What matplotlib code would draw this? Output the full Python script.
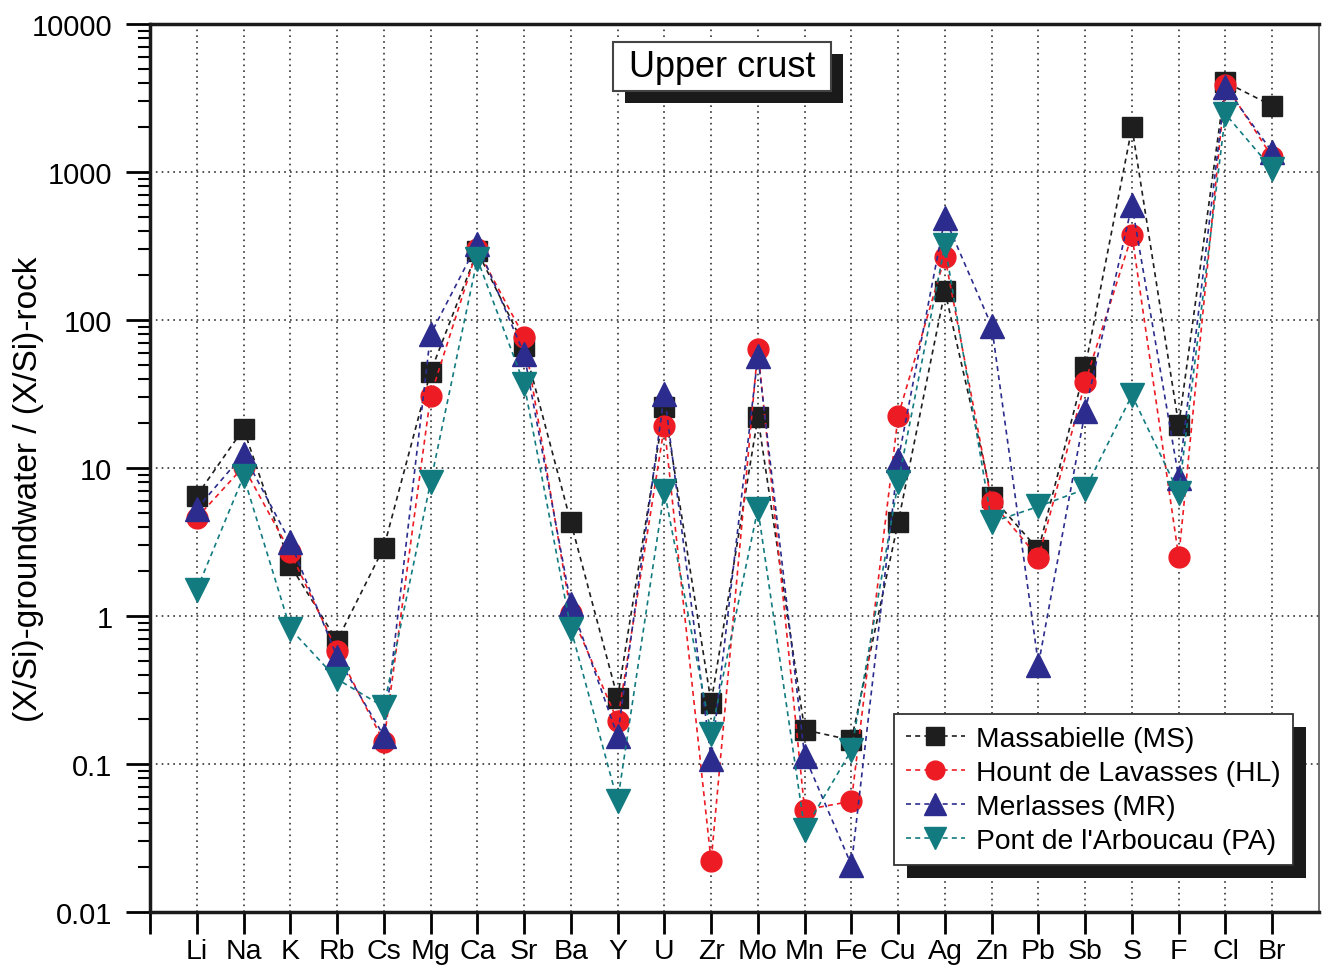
import matplotlib
matplotlib.use('Agg')
import matplotlib.pyplot as plt
import matplotlib.ticker as ticker
from matplotlib.patches import Rectangle
from matplotlib.transforms import IdentityTransform

plt.rcParams['font.family'] = ['Liberation Sans', 'DejaVu Sans']

elements = ['Li', 'Na', 'K', 'Rb', 'Cs', 'Mg', 'Ca', 'Sr', 'Ba', 'Y', 'U', 'Zr',
            'Mo', 'Mn', 'Fe', 'Cu', 'Ag', 'Zn', 'Pb', 'Sb', 'S', 'F', 'Cl', 'Br']

# (X/Si)-groundwater / (X/Si)-rock
ms = [6.5, 18.4, 2.2, 0.68, 2.9, 44.5, 292, 67, 4.3, 0.28, 26, 0.26,
      22, 0.17, 0.145, 4.3, 157, 6.4, 2.8, 48, 2000, 19.5, 4050, 2800]
hl = [4.6, 10.2, 2.7, 0.58, 0.141, 30.6, 300, 77, 1.05, 0.195, 19.2, 0.022,
      64, 0.049, 0.056, 22.5, 267, 5.9, 2.47, 38, 375, 2.5, 3900, 1260]
mr = [5.3, 12.4, 3.16, 0.53, 0.155, 80, 327, 59, 1.2, 0.155, 31.6, 0.108,
      57, 0.113, 0.0208, 11.3, 489, 91, 0.47, 24.3, 598, 8.6, 3750, 1365]
pa = [1.5, 8.8, 0.82, 0.375, 0.243, 8.0, 258, 37, 0.82, 0.056, 7.0, 0.16,
      5.3, 0.036, 0.124, 8.0, 321, 4.3, 5.5, 7.2, 31, 6.8, 2465, 1047]

labels = ['Massabielle (MS)', 'Hount de Lavasses (HL)', 'Merlasses (MR)', "Pont de l'Arboucau (PA)"]

fig = plt.figure(figsize=(13.23, 9.70), dpi=100)
ax = fig.add_axes([150/1323, 57/970, 1169/1323, 888/970])

xpos = list(range(1, len(elements) + 1))
styles = [('s', '#1e1e1e', 14), ('o', '#ed1c24', 15), ('^', '#2c2c8e', 17), ('v', '#127b80', 17)]
for vals, lab, (mk, col, sz) in zip([ms, hl, mr, pa], labels, styles):
    ax.plot(xpos, vals, linestyle=(0, (3, 2.5)), lw=1.2, color=col,
            marker=mk, ms=sz, mfc=col, mec=col, mew=1, label=lab)

ax.set_yscale('log')
ax.set_ylim(0.01, 10000)
ax.set_xlim(0, 25)
ax.set_xticks(xpos)
ax.set_xticklabels(elements)
ax.set_xticks([0], minor=True)
ax.yaxis.set_major_locator(ticker.LogLocator(base=10, numticks=10))
ax.yaxis.set_minor_locator(ticker.LogLocator(base=10, subs=range(2, 10), numticks=20))
ax.yaxis.set_major_formatter(ticker.FuncFormatter(lambda v, p: '%g' % v))
ax.yaxis.set_minor_formatter(ticker.NullFormatter())

ax.grid(True, which='major', linestyle=(0, (1, 2.5)), color='#333333', lw=1.2)
ax.tick_params(axis='y', which='major', direction='out', length=17, width=2, labelsize=21, pad=10)
ax.tick_params(axis='y', which='minor', direction='out', length=9, width=1.5)
ax.tick_params(axis='x', which='both', direction='out', length=16, width=2, labelsize=20.5, pad=3)

for s in ['left', 'bottom', 'top']:
    ax.spines[s].set_linewidth(2.5)
    ax.spines[s].set_color('#1a1a1a')
ax.spines['right'].set_linewidth(1.2)
ax.spines['right'].set_color('#555555')

ax.set_ylabel('(X/Si)-groundwater / (X/Si)-rock', fontsize=24)
ax.yaxis.label.set_va('center')
ax.yaxis.set_label_coords(-0.104, 0.4775)

# title box with drop shadow
bx, by, bw, bh = (613 - 150) / 1169, (913 - 92) / 888, 218 / 1169, 49 / 888
ax.add_patch(Rectangle((bx + 12 / 1169, by - 12 / 888), bw, bh, transform=ax.transAxes,
                       fc='#1a1a1a', ec='none', zorder=5.9, clip_on=False))
ax.add_patch(Rectangle((bx, by), bw, bh, transform=ax.transAxes,
                       fc='white', ec='#444444', lw=1.5, zorder=6, clip_on=False))
ax.text(bx + bw / 2, by + bh / 2, 'Upper crust', transform=ax.transAxes,
        ha='center', va='center', fontsize=26, zorder=7)

leg = ax.legend(loc='upper left', bbox_to_anchor=((894 - 150) / 1169, (913 - 715) / 888),
                borderaxespad=0, fontsize=20.3, fancybox=False, framealpha=1,
                edgecolor='#333333', handlelength=2.1, handletextpad=0.4,
                labelspacing=0.28, borderpad=0.42, markerscale=0.9)
leg.get_frame().set_linewidth(1.3)
leg.set_zorder(6)

fig.canvas.draw()
bb = leg.get_window_extent(fig.canvas.get_renderer())
ax.add_artist(Rectangle((bb.x0 + 13, bb.y0 - 13), bb.width, bb.height,
                        transform=IdentityTransform(), fc='#1a1a1a', ec='none',
                        zorder=5.9, clip_on=False))

fig.savefig('out.png', dpi=100)
